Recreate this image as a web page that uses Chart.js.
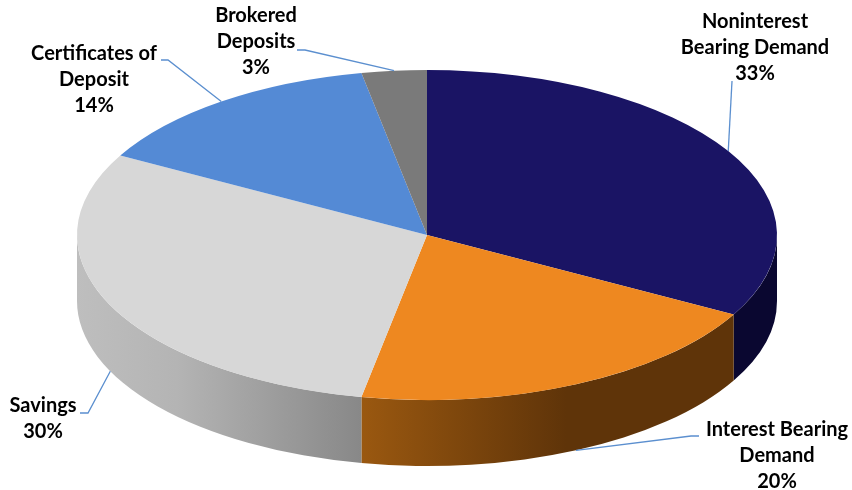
<!DOCTYPE html>
<html>
<head>
<meta charset="utf-8">
<style>
  html, body { margin: 0; padding: 0; background: #fff; }
  canvas { display: block; }
</style>
<script src="https://cdn.jsdelivr.net/npm/chart.js@4/dist/chart.umd.min.js"></script>
</head>
<body>
<canvas id="deposits" width="852" height="490"></canvas>
<script>
// Deposit mix, share of total (%)
const categories = ['Noninterest Bearing Demand', 'Interest Bearing Demand', 'Savings', 'Certificates of Deposit', 'Brokered Deposits'];
const shares = [33, 20, 30, 14, 3];
const labelLines = [['Noninterest', 'Bearing Demand'], ['Interest Bearing', 'Demand'], ['Savings'], ['Certificates of', 'Deposit'], ['Brokered', 'Deposits']];

// Slice styling
const topColors = ['#1A1464', '#EE8820', '#D7D7D7', '#548AD5', '#7A7A7A'];
const wallStops = [
  [[0, '#0A0730'], [1, '#0A0730']],
  [[0, '#9A5810'], [0.55, '#5F3409'], [1, '#5F3409']],
  [[0, '#BEBEBE'], [0.35, '#B4B4B4'], [1, '#888888']],
  [[0, '#34568A'], [1, '#34568A']],
  [[0, '#4A4A4A'], [1, '#4A4A4A']]
];

// Tilted-disc geometry: the library's circle is squashed to this height
const radiusX = 350;
const radiusY = 165;
const wallDepth = 66;

// Label block centres and the elbow where each leader line leaves its label
const labelLayout = [
  { x: 755, y: 22, leader: [[732, 81]] },
  { x: 777, y: 430, leader: [[699, 436], [691, 436]] },
  { x: 43, y: 406, leader: [[80, 413], [88, 413]] },
  { x: 94, y: 54, leader: [[161, 60], [168, 60]] },
  { x: 256, y: 16, leader: [[297, 50], [305, 50]] }
];
const lineStep = 26;
const labelFont = 'bold 20px Lato';

const tiltedPie = {
  id: 'tiltedPie',
  beforeDatasetsDraw(chart) {
    const ctx = chart.ctx;
    const arcs = chart.getDatasetMeta(0).data;
    const cx = arcs[0].x, cy = arcs[0].y;
    const squash = radiusY / radiusX;

    // Side wall of each slice facing the viewer, from the slice's own angles
    arcs.forEach((arc, i) => {
      const a = Math.max(arc.startAngle, 0);
      const b = Math.min(arc.endAngle, Math.PI);
      if (b <= a) return;
      const x0 = cx + radiusX * Math.cos(b);
      const x1 = cx + radiusX * Math.cos(a);
      const fill = ctx.createLinearGradient(x0, 0, x1, 0);
      wallStops[i].forEach(([t, c]) => fill.addColorStop(t, c));
      ctx.beginPath();
      ctx.ellipse(cx, cy, radiusX, radiusY, 0, a, b, false);
      ctx.ellipse(cx, cy + wallDepth, radiusX, radiusY, 0, b, a, true);
      ctx.closePath();
      ctx.fillStyle = fill;
      ctx.fill();
    });

    // Top face: arcs are drawn by the library inside this squashed transform
    ctx.save();
    ctx.translate(cx, cy);
    ctx.scale(1, squash);
    ctx.translate(-cx, -cy);
  },
  afterDatasetsDraw(chart) {
    const ctx = chart.ctx;
    ctx.restore();

    const arcs = chart.getDatasetMeta(0).data;
    const cx = arcs[0].x, cy = arcs[0].y;

    arcs.forEach((arc, i) => {
      const layout = labelLayout[i];
      const mid = (arc.startAngle + arc.endAngle) / 2;
      const sin = Math.sin(mid);
      const anchorX = cx + radiusX * Math.cos(mid);
      const anchorY = cy + radiusY * sin + (sin > 0 ? wallDepth : 0);

      // Leader line ends on the rim at the slice's mid-angle
      ctx.beginPath();
      layout.leader.forEach(([x, y], n) => (n ? ctx.lineTo(x, y) : ctx.moveTo(x, y)));
      ctx.lineTo(anchorX, anchorY);
      ctx.strokeStyle = '#5B8FCF';
      ctx.lineWidth = 1.3;
      ctx.stroke();

      ctx.fillStyle = '#000';
      ctx.font = labelFont;
      ctx.textAlign = 'center';
      ctx.textBaseline = 'middle';
      const lines = [...labelLines[i], shares[i] + '%'];
      lines.forEach((text, n) => ctx.fillText(text, layout.x, layout.y + n * lineStep));
    });
  }
};

new Chart(document.getElementById('deposits'), {
  type: 'pie',
  data: {
    labels: categories,
    datasets: [{
      data: shares,
      backgroundColor: topColors,
      borderWidth: 0,
      clip: false,
      radius: radiusX
    }]
  },
  options: {
    responsive: false,
    animation: false,
    layout: { padding: { left: 2, top: 0, right: 0, bottom: 20 } },
    plugins: { legend: { display: false }, tooltip: { enabled: false } }
  },
  plugins: [tiltedPie]
});
</script>
</body>
</html>
